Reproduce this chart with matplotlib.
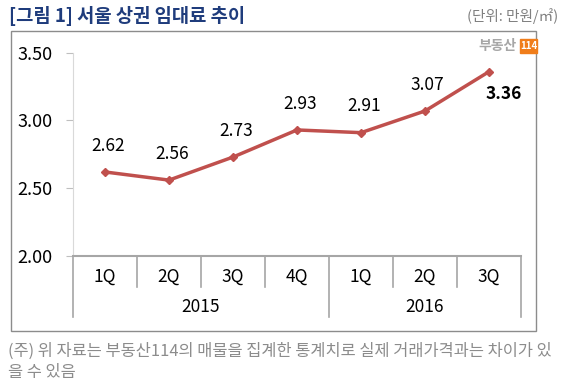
import matplotlib
matplotlib.use("Agg")
import matplotlib.pyplot as plt
from matplotlib.patches import Rectangle
import matplotlib.transforms as mtransforms

plt.rcParams['font.family'] = ['Noto Sans CJK KR', 'DejaVu Sans']

# data
quarters = ["1Q", "2Q", "3Q", "4Q", "1Q", "2Q", "3Q"]
years = ["2015", "2016"]
year_spans = [(0, 3), (4, 6)]
rent = [2.62, 2.56, 2.73, 2.93, 2.91, 3.07, 3.36]
yticks = [2.00, 2.50, 3.00, 3.50]

W, H = 569, 386
fig = plt.figure(figsize=(W / 100, H / 100), dpi=100)


def fx(px):
    return px / W


def fy(py):
    return 1 - py / H


# outer frame
fig.patches.append(Rectangle((fx(11), fy(331)), fx(536) - fx(11), fy(31) - fy(331),
                             transform=fig.transFigure, fill=False,
                             edgecolor="#8c8c8c", linewidth=1.0))

# title and unit
fig.text(fx(9), fy(16), "[그림 1] 서울 상권 임대료 추이", fontsize=13.5, fontweight="bold",
         color="#1f3c7c", va="center", ha="left")
fig.text(fx(558), fy(16), "(단위: 만원/㎡)", fontsize=10.5, color="#808080",
         va="center", ha="right")

# logo
fig.text(fx(517), fy(46), "부동산", fontsize=10, fontweight="bold", color="#a6a6a6",
         va="center", ha="right")
fig.patches.append(Rectangle((fx(520), fy(53)), fx(537) - fx(520), fy(39) - fy(53),
                             transform=fig.transFigure, color="#f07d1a"))
fig.text(fx(528.5), fy(46), "114", fontsize=7, fontweight="bold", color="white",
         va="center", ha="center")

ax = fig.add_axes([fx(73), fy(256), fx(521) - fx(73), fy(52.7) - fy(256)])
x = list(range(len(rent)))
ax.plot(x, rent, color="#c0504d", linewidth=2.5, marker="D", markersize=4,
        solid_joinstyle="round", zorder=3)

for i, v in enumerate(rent):
    last = i == len(rent) - 1
    if last:
        ax.annotate(f"{v:.2f}", (i, v), xytext=(11, -16), textcoords="offset points",
                    ha="center", va="center", fontsize=12.5, fontweight="bold", color="black")
    else:
        ax.annotate(f"{v:.2f}", (i, v), xytext=(2, 19), textcoords="offset points",
                    ha="center", va="center", fontsize=12.5, color="black")

ax.set_xlim(-0.5, len(rent) - 0.5)
ax.set_ylim(2.0, 3.5)
ax.set_yticks(yticks)
ax.set_yticklabels([f"{t:.2f}" for t in yticks], fontsize=13)
ax.tick_params(axis="y", length=5, color="#bfbfbf", pad=10)
ax.set_xticks([])

for s in ["top", "right"]:
    ax.spines[s].set_visible(False)
ax.spines["left"].set_color("#d9d9d9")
ax.spines["bottom"].set_color("#a6a6a6")
ax.spines["bottom"].set_linewidth(1.5)

# category axis: separators and labels
trans = mtransforms.blended_transform_factory(ax.transData, ax.transAxes)
year_edges = [-0.5, 3.5, len(rent) - 0.5]
for k in range(len(rent) + 1):
    xe = k - 0.5
    bottom = -0.30 if xe in year_edges else -0.152
    ax.plot([xe, xe], [0, bottom], transform=trans, color="#a6a6a6",
            linewidth=1.2, clip_on=False)
for i, q in enumerate(quarters):
    ax.text(i, -0.103, q, transform=trans, ha="center", va="center", fontsize=12.5)
for yr, (a, b) in zip(years, year_spans):
    ax.text((a + b) / 2, -0.251, yr, transform=trans, ha="center", va="center", fontsize=12.5)

# footnote
fig.text(fx(8), fy(351), "(주) 위 자료는 부동산114의 매물을 집계한 통계치로 실제 거래가격과는 차이가 있",
         fontsize=11.8, color="#8c8c8c", va="center", ha="left")
fig.text(fx(8), fy(373), "을 수 있음", fontsize=11.8, color="#8c8c8c", va="center", ha="left")

fig.savefig("out.png", dpi=100)
